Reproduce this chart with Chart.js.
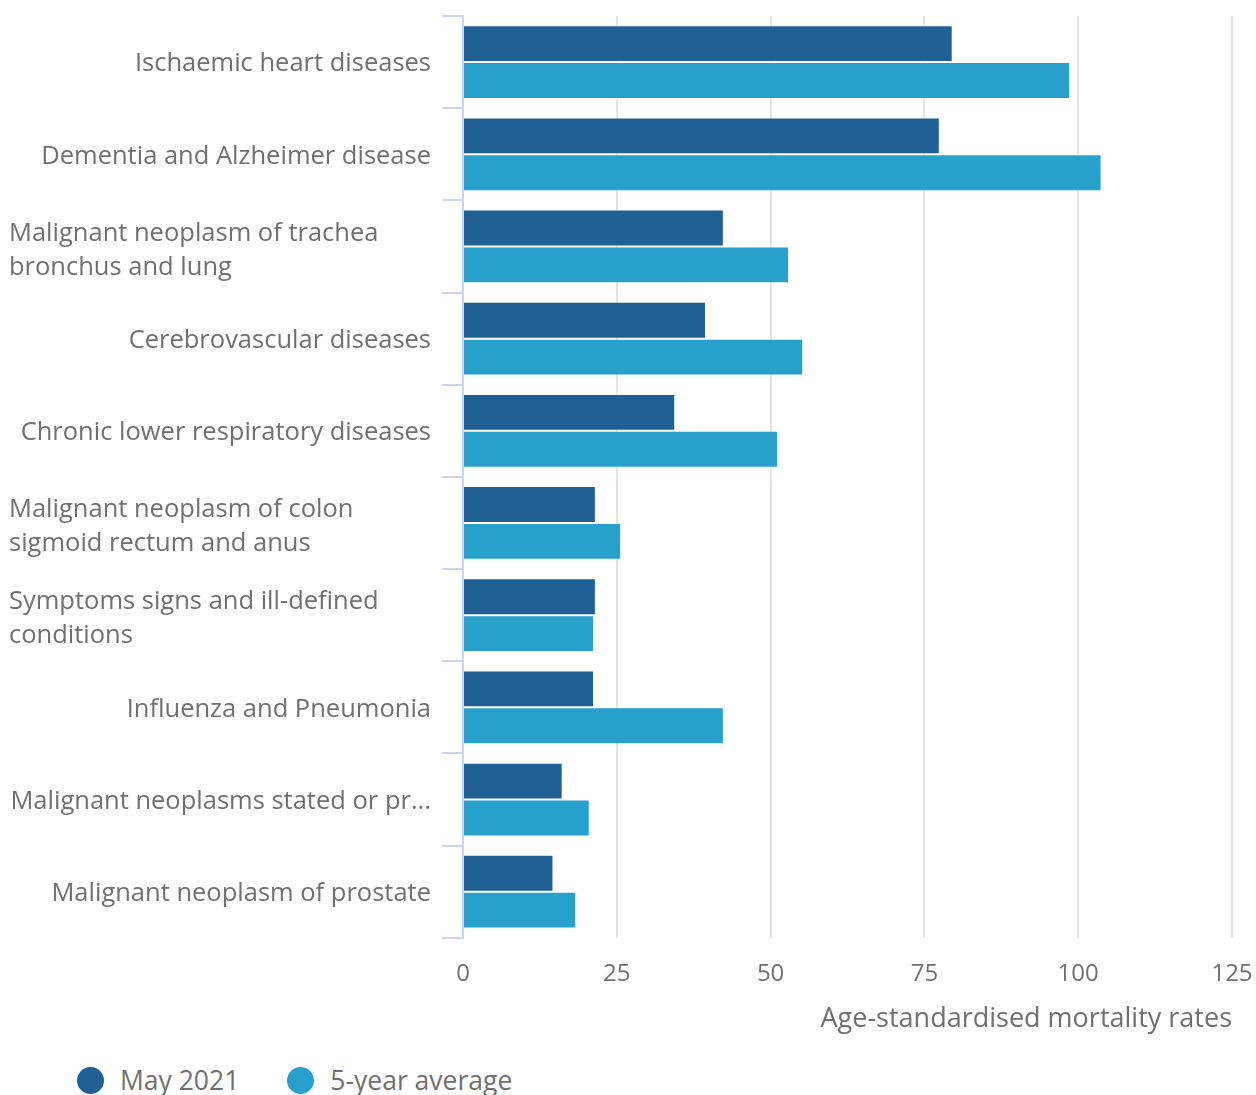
<!DOCTYPE html>
<html>
<head>
<meta charset="utf-8">
<script src="https://cdn.jsdelivr.net/npm/chart.js@4.4.0/dist/chart.umd.min.js"></script>
<style>
  html, body { margin: 0; padding: 0; background: #fff; overflow: hidden; }
  #wrap { width: 1256px; height: 1050px; position: relative; }
  #legenda { display: flex; align-items: center; height: 60px; padding-left: 77px; font-family: "Open Sans", sans-serif; font-size: 26.5px; color: #707070; }
  #legenda span.item { display: flex; align-items: center; margin-right: 48px; }
  #legenda span.dot { width: 27px; height: 27px; border-radius: 50%; display: inline-block; margin-right: 16px; }
</style>
</head>
<body>
<div id="wrap"><canvas id="grafico"></canvas></div>
<div id="legenda"></div>
<script>
// Dados
const categorias = [
  'Ischaemic heart diseases',
  'Dementia and Alzheimer disease',
  ['Malignant neoplasm of trachea', 'bronchus and lung'],
  'Cerebrovascular diseases',
  'Chronic lower respiratory diseases',
  ['Malignant neoplasm of colon', 'sigmoid rectum and anus'],
  ['Symptoms signs and ill-defined', 'conditions'],
  'Influenza and Pneumonia',
  'Malignant neoplasms stated or pr...',
  'Malignant neoplasm of prostate'
];
const maio2021 = [79.6, 77.5, 42.4, 39.5, 34.5, 21.6, 21.6, 21.3, 16.2, 14.7];
const media5anos = [98.7, 103.8, 53.0, 55.3, 51.2, 25.7, 21.3, 42.4, 20.6, 18.4];
const nomesSeries = ['May 2021', '5-year average'];
const coresSeries = ['#206095', '#27a0cc'];
const ticksX = [0, 25, 50, 75, 100, 125];

const fonte = '"Open Sans", sans-serif';
const corTexto = '#707070';

// desenha os rótulos das categorias (uma linha: alinhado à direita; várias: à esquerda)
const rotulosPlugin = {
  id: 'rotulos',
  afterDraw(chart) {
    const ctx = chart.ctx;
    const escala = chart.scales.y;
    ctx.save();
    ctx.font = '25.5px ' + fonte;
    ctx.fillStyle = corTexto;
    ctx.textBaseline = 'middle';
    categorias.forEach((c, i) => {
      const y = escala.getPixelForTick(i) + 2;
      if (Array.isArray(c)) {
        ctx.textAlign = 'left';
        const alt = 34;
        c.forEach((linha, j) => {
          ctx.fillText(linha, 9, y + 2 + (j - (c.length - 1) / 2) * alt);
        });
      } else {
        ctx.textAlign = 'right';
        ctx.fillText(c, 431, y);
      }
    });
    ctx.restore();
  }
};

const ctx = document.getElementById('grafico').getContext('2d');
const grafico = new Chart(ctx, {
  type: 'bar',
  data: {
    labels: categorias,
    datasets: [
      { label: nomesSeries[0], data: maio2021, backgroundColor: coresSeries[0], borderColor: 'rgba(255,255,255,0.45)', borderWidth: 1 },
      { label: nomesSeries[1], data: media5anos, backgroundColor: coresSeries[1], borderColor: 'rgba(255,255,255,0.45)', borderWidth: 1 }
    ]
  },
  options: {
    indexAxis: 'y',
    responsive: true,
    maintainAspectRatio: false,
    animation: false,
    datasets: { bar: { categoryPercentage: 0.8, barPercentage: 1.0 } },
    layout: { padding: { top: 16, right: 24, left: 0, bottom: 7 } },
    plugins: {
      legend: { display: false },
      tooltip: { enabled: false }
    },
    scales: {
      x: {
        min: 0,
        max: 125,
        afterBuildTicks: escala => { escala.ticks = ticksX.map(v => ({ value: v })); },
        afterFit: escala => { escala.paddingRight = 0; escala.paddingLeft = 0; },
        grid: { color: '#e4e4e4', lineWidth: 2, drawTicks: false },
        border: { display: false },
        ticks: { color: corTexto, font: { family: fonte, size: 24 }, padding: 22 },
        title: {
          display: true,
          text: 'Age-standardised mortality rates',
          align: 'end',
          color: corTexto,
          font: { family: fonte, size: 27 },
          padding: { top: -7, bottom: 7 }
        }
      },
      y: {
        afterFit: escala => { escala.width = 463; },
        grid: { offset: true, drawOnChartArea: false, color: '#ccd6eb', lineWidth: 2, tickLength: 21 },
        border: { display: true, color: '#ccd6eb', width: 2 },
        ticks: { display: false }
      }
    }
  },
  plugins: [rotulosPlugin]
});

// legenda em HTML
const legenda = document.getElementById('legenda');
nomesSeries.forEach((nome, i) => {
  const item = document.createElement('span');
  item.className = 'item';
  item.innerHTML = '<span class="dot" style="background:' + coresSeries[i] + '"></span>' + nome;
  legenda.appendChild(item);
});
</script>
</body>
</html>
